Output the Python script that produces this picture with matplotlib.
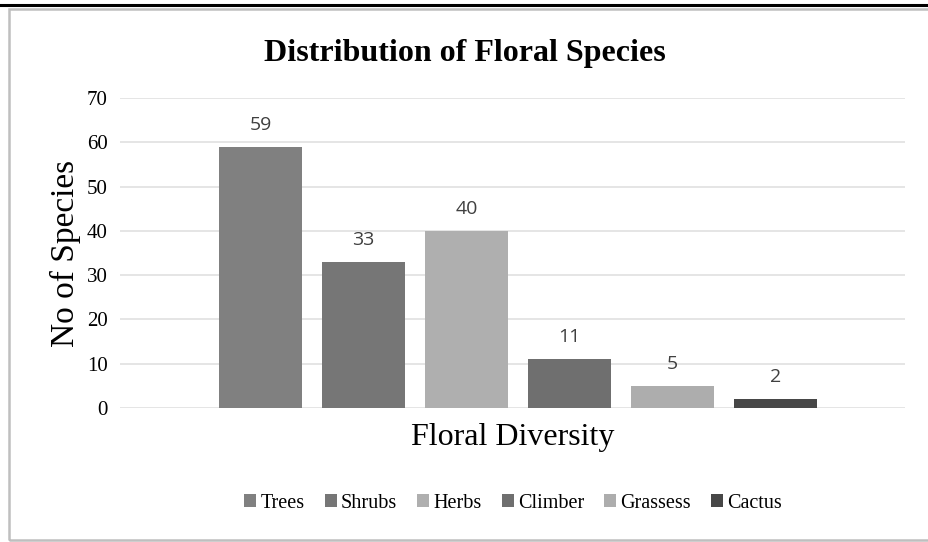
import matplotlib.pyplot as plt
from matplotlib.patches import Rectangle
from matplotlib.lines import Line2D

species = ["Trees", "Shrubs", "Herbs", "Climber", "Grassess", "Cactus"]
counts = [59, 33, 40, 11, 5, 2]
colors = ["#808080", "#767676", "#afafaf", "#6f6f6f", "#adadad", "#474747"]
yticks = [0, 10, 20, 30, 40, 50, 60, 70]

W, H = 929, 542
fig = plt.figure(figsize=(W / 100, H / 100), dpi=100)
serif = "Liberation Serif"

# outer frame and the rule along the top
fig.add_artist(Line2D([0, 1], [1 - 5 / H, 1 - 5 / H], transform=fig.transFigure,
                      color="black", lw=2.2))
fig.add_artist(Rectangle((9 / W, 2 / H), 960 / W, (H - 11) / H, transform=fig.transFigure,
                         fill=False, edgecolor="#bfbfbf", lw=1.8))

ax = fig.add_axes([120 / W, (H - 408) / H, 785 / W, 310 / H])

# one bar per series, grouped around a single category
for i, (name, val, col) in enumerate(zip(species, counts, colors)):
    x = i - 2.5
    ax.bar(x, val, width=0.8, color=col, label=name, zorder=3)
    ax.text(x, val + 2.9, str(val), ha="center", va="bottom", fontsize=14,
            color="#404040", family="Open Sans")

ax.set_xlim(-3.864, 3.757)
ax.set_ylim(0, 70)
ax.set_yticks(yticks)
ax.set_yticklabels([str(t) for t in yticks], fontsize=15, family=serif)
ax.set_xticks([])
ax.grid(axis="y", color="#e0e0e0", lw=1.2, zorder=0)
ax.tick_params(axis="y", length=0, pad=9)
for s in ax.spines.values():
    s.set_visible(False)

ax.set_ylabel("No of Species", fontsize=24, family=serif, labelpad=4)
ax.set_xlabel("Floral Diversity", fontsize=23, family=serif, labelpad=11)

fig.text(465 / W, 1 - 54 / H, "Distribution of Floral Species", ha="center", va="center",
         fontsize=23, fontweight="bold", family=serif)

fig.legend(loc="center", bbox_to_anchor=(513 / W, 1 - 503 / H), ncol=6, frameon=False,
           prop={"family": serif, "size": 14.5}, handlelength=0.6, handleheight=0.6,
           handletextpad=0.2, columnspacing=1.0)

fig.savefig("out.png", dpi=100)
